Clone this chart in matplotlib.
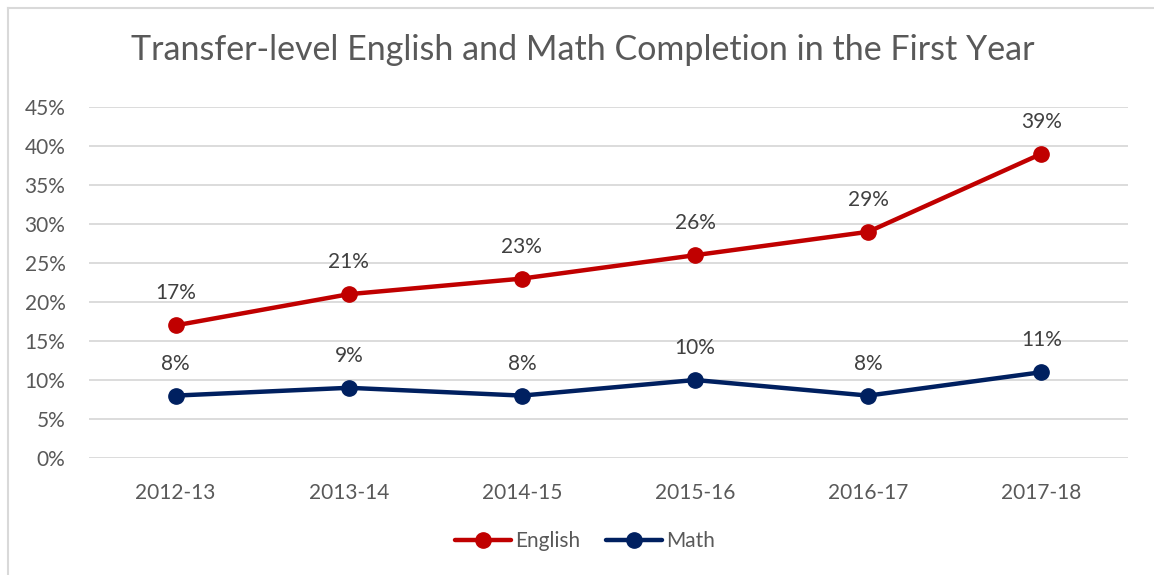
import matplotlib.pyplot as plt
from matplotlib.lines import Line2D
from matplotlib.ticker import MultipleLocator, FuncFormatter

years = ["2012-13", "2013-14", "2014-15", "2015-16", "2016-17", "2017-18"]
english = [17, 21, 23, 26, 29, 39]
math = [8, 9, 8, 10, 8, 11]

RED = "#C00000"
NAVY = "#002060"
GRID = "#D9D9D9"
TEXT = "#595959"

plt.rcParams["font.family"] = ["Lato", "DejaVu Sans"]

W, H = 1154, 575
fig = plt.figure(figsize=(W / 100, H / 100), dpi=100)
ax = fig.add_axes([89 / W, 1 - 458 / H, (1128 - 89) / W, (458 - 107) / H])

x = list(range(len(years)))
for vals, color, name in [(english, RED, "English"), (math, NAVY, "Math")]:
    ax.plot(x, vals, color=color, linewidth=3.2, marker="o", markersize=11,
            solid_capstyle="round", label=name, zorder=3)
    for xi, v in zip(x, vals):
        ax.annotate(f"{v}%", (xi, v), xytext=(0, 23), textcoords="offset points",
                    ha="center", va="center", fontsize=15, color="#404040")

ax.set_xlim(-0.5, len(years) - 0.5)
ax.set_ylim(0, 45)
ax.yaxis.set_major_locator(MultipleLocator(5))
ax.yaxis.set_major_formatter(FuncFormatter(lambda v, _: f"{v:.0f}%"))
ax.set_xticks(x)
ax.set_xticklabels(years)
ax.grid(axis="y", color=GRID, linewidth=1.3, zorder=0)
ax.set_axisbelow(True)
for s in ax.spines.values():
    s.set_visible(False)
ax.tick_params(axis="both", length=0, labelsize=15, colors=TEXT)
ax.tick_params(axis="x", pad=18)
ax.tick_params(axis="y", pad=17)

fig.text(583 / W, 1 - 50 / H, "Transfer-level English and Math Completion in the First Year",
         ha="center", va="center", fontsize=24.5, color=TEXT)

fig.legend(loc="center", bbox_to_anchor=(585 / W, 1 - 541 / H), ncol=2, frameon=False,
           fontsize=15, labelcolor=TEXT, handlelength=2.7, columnspacing=1.2,
           handletextpad=0.2)

# chart border (left and top edges)
fig.add_artist(Line2D([8 / W, 8 / W], [0, 1 - 8 / H], color=GRID, linewidth=1.5))
fig.add_artist(Line2D([8 / W, 1], [1 - 8 / H, 1 - 8 / H], color=GRID, linewidth=1.5))

fig.savefig("out.png", dpi=100)
